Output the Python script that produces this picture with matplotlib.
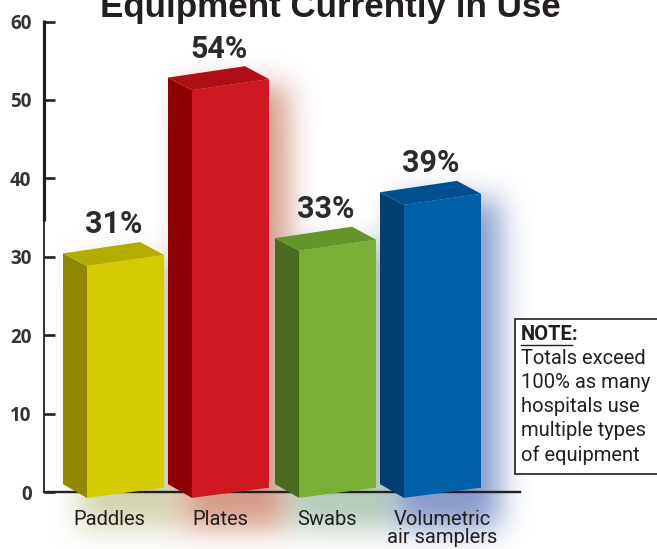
import numpy as np
import matplotlib
matplotlib.use('Agg')
from matplotlib import pyplot as plt
from matplotlib.patches import Polygon, Rectangle

plt.rcParams['font.family'] = ['Roboto', 'DejaVu Sans']

categories = ['Paddles', 'Plates', 'Swabs', 'Volumetric\nair samplers']
values = [31, 54, 33, 39]
value_labels = ['31%', '54%', '33%', '39%']
y_ticks = [0, 10, 20, 30, 40, 50, 60]
note_lines = ['Totals exceed', '100% as many', 'hospitals use', 'multiple types', 'of equipment']

front_colors = ['#D4CC00', '#CE1920', '#7BAE35', '#0060A8']
side_colors = ['#8F8800', '#8C0004', '#4A6A20', '#003F70']
top_colors = ['#B5AC00', '#B01015', '#64952B', '#004F8F']
glow_colors = ['#B8B880', '#B85838', '#80A888', '#3858A8']

# layout, in pixels of the 657x549 picture
W, H = 657, 549
AX_L, AX_R, AX_B, AX_T = 44, 520, 492, 21.5
bar_left = [63, 168, 275, 380]
tick_x = [109, 220, 327, 442]
SIDE_W, FRONT_W = 24, 77
PX = 60 / (AX_B - AX_T)   # data units per pixel

fig = plt.figure(figsize=(W / 100, H / 100), dpi=100)
ax = fig.add_axes([AX_L / W, 1 - AX_B / H, (AX_R - AX_L) / W, (AX_B - AX_T) / H])
ax.patch.set_alpha(0)
for s in ax.spines.values():
    s.set_visible(False)

# soft coloured glow behind the bars
gx = np.arange(0, W + 1)
gy = np.linspace(60 + AX_T * PX, -(H - AX_B) * PX, H + 1)
XX, YY = np.meshgrid(gx, gy)


def blur(a, n, passes=3):
    k = np.ones(n) / n
    for _ in range(passes):
        a = np.apply_along_axis(lambda r: np.convolve(r, k, mode='same'), 0, a)
        a = np.apply_along_axis(lambda r: np.convolve(r, k, mode='same'), 1, a)
    return a


rgba = np.ones((H + 1, W + 1, 4))
rgba[..., 3] = 0
for i in range(len(values)):
    m = ((XX > bar_left[i] + 14) & (XX < bar_left[i] + SIDE_W + FRONT_W + 18) &
         (YY < values[i] * 0.975 - 0.5) & (YY > -4.5)).astype(float)
    m = blur(m, 28) * 0.6
    c = np.array(matplotlib.colors.to_rgb(glow_colors[i]))
    old = rgba[..., 3]
    new = m + old * (1 - m)
    for j in range(3):
        rgba[..., j] = np.where(new > 0, (c[j] * m + rgba[..., j] * old * (1 - m)) / np.maximum(new, 1e-6), 1)
    rgba[..., 3] = new
ax.imshow(rgba, extent=[-0.5, W + 0.5, gy[-1], gy[0]], aspect='auto', zorder=0, clip_on=False)
ax.set_xlim(AX_L, AX_R)
ax.set_ylim(0, 60)

# axis lines
ax.plot([AX_L, AX_L], [0, 34.5], color='#231F20', lw=1.3, zorder=1, clip_on=False, solid_capstyle='butt')
ax.plot([AX_L, AX_L], [34.5, 60.15], color='#231F20', lw=2.3, zorder=1, clip_on=False, solid_capstyle='butt')
ax.plot([AX_L, AX_R], [0, 0], color='#231F20', lw=1.7, zorder=1, clip_on=False)
ax.set_yticks(y_ticks)
ax.set_yticklabels(y_ticks, family=['Open Sans', 'DejaVu Sans'], fontweight='bold', fontsize=13.5, color='#333333')
ax.tick_params(axis='y', direction='in', length=8, width=1.9, color='#231F20', pad=9)
ax.set_xticks(tick_x)
ax.set_xticklabels(categories, fontsize=14.5, color='#231F20', linespacing=0.9)
ax.tick_params(axis='x', length=0, pad=13)

# the 3D bars, front face sits a little below the value and below the baseline
for i, v in enumerate(values):
    x0 = bar_left[i]
    x1 = x0 + SIDE_W
    x2 = x1 + FRONT_W
    f_r = v * 0.975          # top of front face, right corner
    f_l = f_r - 1.4          # perspective on the front edge
    b_l = f_l + 1.6
    b_r = f_r + 1.65
    bot_r, bot_f, bot_s = 0.55, -0.75, 1.0
    ax.add_patch(Polygon([(x0, bot_s), (x1, bot_f), (x1, f_l), (x0, b_l)], fc=side_colors[i], ec='none', zorder=3, clip_on=False))
    ax.add_patch(Polygon([(x1, bot_f), (x2, bot_r), (x2, f_r), (x1, f_l)], fc=front_colors[i], ec='none', zorder=3, clip_on=False))
    ax.add_patch(Polygon([(x0, b_l), (x2 - SIDE_W, b_r), (x2, f_r), (x1, f_l)], fc=top_colors[i], ec='none', zorder=3, clip_on=False))
    ax.text(x0 + 51, f_r + 3.9, value_labels[i], ha='center', va='center', fontsize=22, fontweight='bold',
            color='#2B2B2B', zorder=5, clip_on=False)

# title is cut off by the top of the picture
fig.text(330 / W, 1 - 17 / H, 'Equipment Currently in Use', ha='center', va='baseline', fontsize=25.2,
         fontweight='bold', family=['Liberation Sans', 'DejaVu Sans'], color='#231F20')

# note box
fig.add_artist(Rectangle((514.5 / W, 1 - 474 / H), 160 / W, 155 / H, transform=fig.transFigure,
                         fc='white', ec='#231F20', lw=1.2))
fig.text(521 / W, 1 - 335 / H, 'NOTE:', va='center', fontsize=14.5, fontweight='bold', color='#231F20')
fig.add_artist(plt.Line2D([521 / W, 572 / W], [1 - 345 / H] * 2, color='#231F20', lw=1))
for k, line in enumerate(note_lines):
    fig.text(521 / W, 1 - (359 + k * 24) / H, line, va='center', fontsize=14.5, color='#231F20')

fig.savefig('out.png', dpi=100)
